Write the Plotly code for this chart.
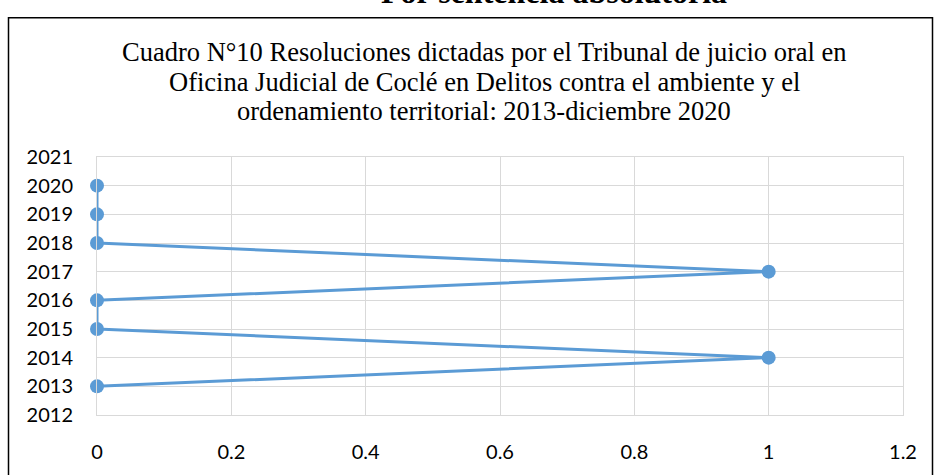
import plotly.graph_objects as go

years = [2013, 2014, 2015, 2016, 2017, 2018, 2019, 2020]
values = [0, 1, 0, 0, 1, 0, 0, 0]
x_ticks = [0, 0.2, 0.4, 0.6, 0.8, 1, 1.2]
x_tick_labels = ["0", "0.2", "0.4", "0.6", "0.8", "1", "1.2"]
y_ticks = list(range(2012, 2022))
title_lines = [
    "Cuadro N°10 Resoluciones dictadas por el Tribunal de juicio oral en",
    "Oficina Judicial de Coclé en Delitos contra el ambiente y el",
    "ordenamiento territorial: 2013-diciembre 2020",
]
top_title = "Por sentencia absolutoria"

W, H = 935, 475
L, R, T, B = 97, 903, 157, 422

def px(xp):
    return (xp - L) / (R - L)

def py(yp):
    return (B - yp) / (B - T)

fig = go.Figure()
fig.add_trace(go.Scatter(
    x=values, y=years, mode="lines+markers",
    line=dict(color="#5b9bd5", width=3),
    marker=dict(color="#5b9bd5", size=14),
    cliponaxis=False, showlegend=False, hoverinfo="skip",
))

tick_font = dict(family="Lato, Liberation Sans, sans-serif", size=20, color="#000")

title_y = [49.5, 79.5, 109.5]
annotations = []
for txt, yy in zip(title_lines, title_y):
    annotations.append(dict(text=txt, xref="paper", yref="paper", x=px(484), y=py(yy),
                            xanchor="center", yanchor="middle", showarrow=False,
                            font=dict(family="Liberation Serif, serif", size=26.5, color="#000")))
annotations.append(dict(text="<b>" + top_title + "</b>",
                        xref="paper", yref="paper", x=px(554), y=py(-12.5),
                        xanchor="center", yanchor="middle", showarrow=False,
                        font=dict(family="Liberation Serif, serif", size=32, color="#000")))

fig.update_layout(
    width=W, height=H,
    margin=dict(l=L, r=W - R, t=T, b=H - B, pad=0),
    paper_bgcolor="white", plot_bgcolor="white",
    font=tick_font,
    xaxis=dict(range=[0, 1.2], tickvals=x_ticks, ticktext=x_tick_labels,
               showgrid=True, gridcolor="#d9d9d9", gridwidth=1,
               zeroline=False, showline=True, linecolor="#d9d9d9", mirror=True,
               ticks="", ticklabelstandoff=19, tickfont=tick_font),
    yaxis=dict(range=[2012, 2021], tickvals=y_ticks,
               showgrid=True, gridcolor="#d9d9d9", gridwidth=1,
               zeroline=False, showline=True, linecolor="#d9d9d9", mirror=True,
               ticks="", ticklabelstandoff=19, tickfont=tick_font),
    shapes=[dict(type="rect", xref="paper", yref="paper",
                 x0=px(8.5), x1=px(932.5), y0=py(495), y1=py(14),
                 line=dict(color="#000", width=1.5), layer="below")],
    annotations=annotations,
)

# remove the page's default body margin so the figure fills the window exactly
fig.write_html("out.html", config={"displayModeBar": False},
               post_script="document.body.style.margin='0';")
